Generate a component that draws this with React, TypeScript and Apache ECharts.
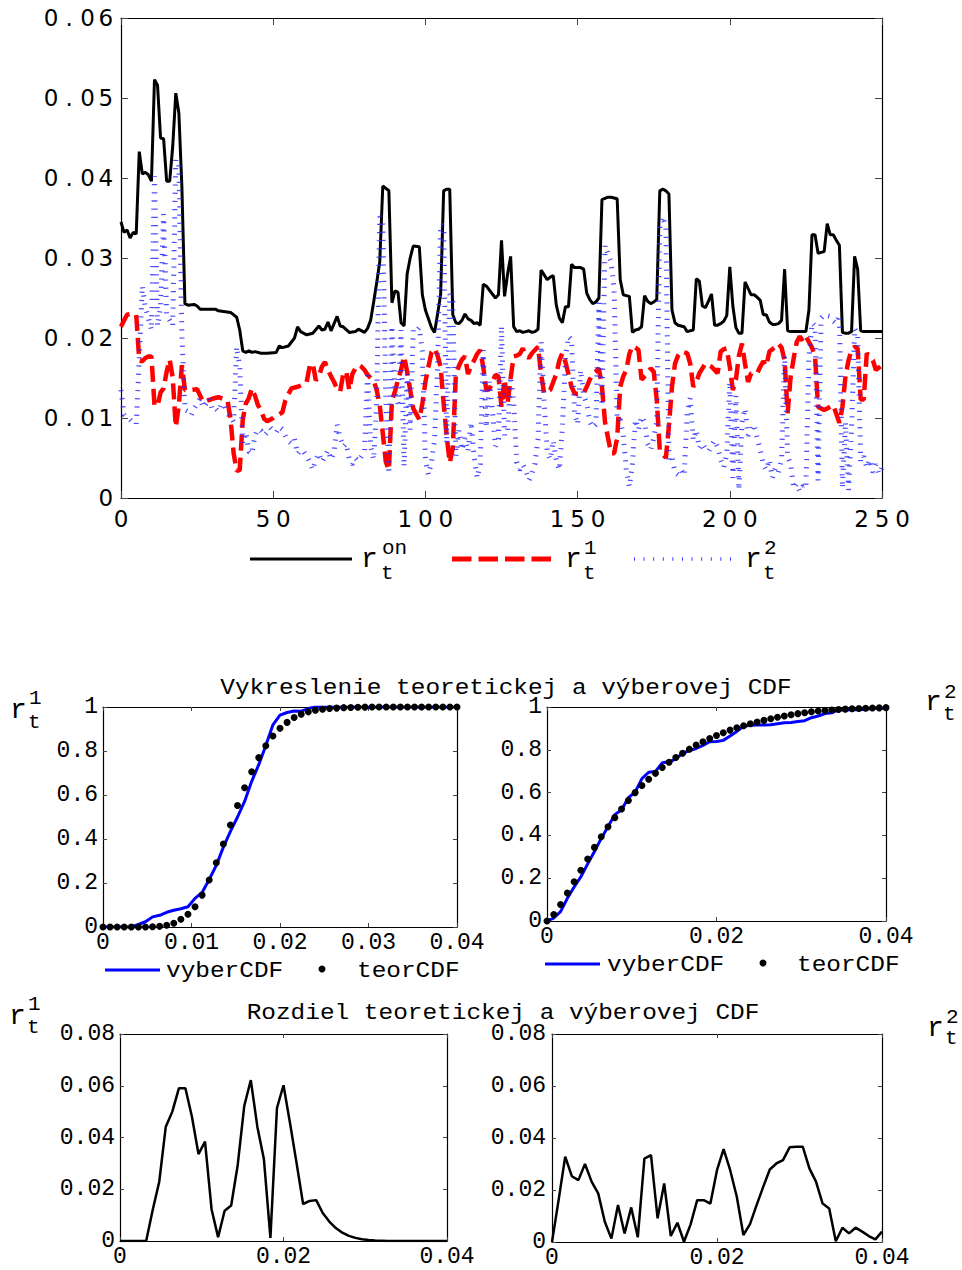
import React, { useEffect, useRef } from 'react';
import * as echarts from 'echarts';

// Daily series: overnight rate and the two simulated components, as [day, value]
const rOn: [number, number][] = [
  [0, 0.0345], [1, 0.0332], [2, 0.0335], [3, 0.0325], [4, 0.0332], [5, 0.033], [6, 0.0433], [7, 0.0405], [8, 0.0407], [9, 0.0404],
  [10, 0.0396], [11, 0.0523], [12, 0.0516], [13, 0.045], [14, 0.0449], [15, 0.0396], [16, 0.0396], [17, 0.044], [18, 0.0506], [19, 0.0482],
  [20, 0.0389], [21, 0.0243], [22, 0.0241], [24, 0.0242], [25, 0.024], [26, 0.0236], [31, 0.0236], [32, 0.0234], [36, 0.0232], [38, 0.0226],
  [39, 0.021], [40, 0.0184], [41, 0.0182], [42, 0.0184], [43, 0.0182], [44, 0.0183], [46, 0.0181], [48, 0.0181], [51, 0.0182], [52, 0.019],
  [53, 0.0188], [55, 0.019], [56, 0.0195], [57, 0.02], [58, 0.0214], [59, 0.0208], [61, 0.0204], [63, 0.0206], [65, 0.0215], [66, 0.021],
  [67, 0.0211], [68, 0.022], [69, 0.0209], [71, 0.0227], [72, 0.0215], [73, 0.0214], [75, 0.0207], [77, 0.0208], [78, 0.0211], [80, 0.0207],
  [81, 0.0212], [82, 0.0222], [83, 0.0245], [84, 0.0269], [85, 0.0295], [86, 0.039], [87, 0.0387], [88, 0.0384], [89, 0.0244], [90, 0.0259],
  [91, 0.0257], [92, 0.0219], [93, 0.0215], [94, 0.028], [95, 0.03], [96, 0.0315], [98, 0.0314], [99, 0.0254], [100, 0.0235], [101, 0.0224],
  [102, 0.0213], [103, 0.0207], [104, 0.023], [105, 0.0254], [106, 0.0384], [107, 0.0386], [108, 0.0386], [109, 0.0229], [110, 0.0219], [111, 0.0218],
  [112, 0.0222], [113, 0.023], [114, 0.0224], [115, 0.0222], [116, 0.0218], [117, 0.0219], [118, 0.0216], [119, 0.0267], [120, 0.0265], [121, 0.026],
  [123, 0.025], [124, 0.0254], [125, 0.0322], [126, 0.0252], [127, 0.028], [128, 0.0302], [129, 0.0214], [130, 0.0208], [131, 0.0209], [132, 0.0207],
  [133, 0.0208], [134, 0.0209], [135, 0.0207], [136, 0.0208], [137, 0.0211], [138, 0.0285], [139, 0.0279], [140, 0.0273], [141, 0.0276], [142, 0.0278],
  [143, 0.0241], [144, 0.0225], [145, 0.0219], [146, 0.0239], [147, 0.0239], [148, 0.0292], [149, 0.0288], [151, 0.0288], [152, 0.0286], [153, 0.0256],
  [154, 0.0248], [155, 0.0243], [156, 0.0245], [157, 0.025], [158, 0.0373], [160, 0.0376], [161, 0.0376], [162, 0.0375], [163, 0.0374], [164, 0.0273],
  [165, 0.0254], [166, 0.0253], [167, 0.0252], [168, 0.0207], [169, 0.021], [170, 0.0211], [171, 0.0214], [172, 0.0253], [173, 0.0246], [174, 0.0243],
  [175, 0.0245], [176, 0.0248], [177, 0.0384], [178, 0.0386], [179, 0.0384], [180, 0.038], [181, 0.0235], [182, 0.0219], [183, 0.0216], [184, 0.0215],
  [185, 0.0214], [186, 0.0208], [188, 0.021], [189, 0.0274], [190, 0.0271], [191, 0.024], [192, 0.0238], [193, 0.0246], [194, 0.0255], [195, 0.0216],
  [196, 0.0216], [197, 0.0218], [198, 0.0221], [199, 0.0228], [200, 0.0289], [201, 0.024], [202, 0.0213], [203, 0.0206], [204, 0.0206], [205, 0.027],
  [206, 0.0262], [207, 0.0254], [208, 0.0254], [209, 0.0251], [210, 0.0247], [211, 0.0229], [212, 0.0229], [213, 0.022], [214, 0.0217], [215, 0.0217],
  [216, 0.0218], [217, 0.0222], [218, 0.0286], [219, 0.0209], [220, 0.0208], [225, 0.0208], [226, 0.0235], [227, 0.0329], [228, 0.0329], [229, 0.0306],
  [230, 0.0307], [231, 0.0308], [232, 0.0343], [233, 0.0329], [234, 0.0329], [235, 0.0322], [236, 0.0316], [237, 0.0207], [238, 0.0206], [239, 0.0206],
  [240, 0.0208], [241, 0.0302], [242, 0.0286], [243, 0.0209], [244, 0.0208], [250, 0.0208],
];

const r1: [number, number][] = [
  [0, 0.0214], [1, 0.0222], [2, 0.0229], [3, 0.023], [4, 0.023], [5, 0.0229], [6, 0.0172], [7, 0.0171], [8, 0.0175], [9, 0.0177],
  [10, 0.0177], [11, 0.0116], [12, 0.0115], [13, 0.0132], [14, 0.0137], [15, 0.0158], [16, 0.0173], [17, 0.015], [18, 0.0089], [19, 0.0116],
  [20, 0.0166], [21, 0.0135], [23, 0.0135], [25, 0.0136], [26, 0.0128], [27, 0.012], [30, 0.0124], [32, 0.0126], [35, 0.0122], [36, 0.0098],
  [37, 0.0056], [38, 0.0034], [39, 0.0035], [40, 0.0098], [41, 0.0118], [42, 0.0125], [43, 0.0137], [44, 0.0128], [45, 0.0116], [46, 0.011],
  [47, 0.0099], [48, 0.0096], [50, 0.01], [51, 0.0103], [53, 0.0107], [54, 0.0122], [55, 0.013], [56, 0.0137], [58, 0.0139], [60, 0.0142],
  [61, 0.0145], [62, 0.0165], [63, 0.0168], [64, 0.0147], [65, 0.0152], [66, 0.0164], [67, 0.017], [68, 0.016], [69, 0.0152], [70, 0.0145],
  [71, 0.0136], [72, 0.0133], [73, 0.0155], [74, 0.0158], [75, 0.0135], [76, 0.0155], [77, 0.0162], [78, 0.0166], [79, 0.0164], [80, 0.016],
  [81, 0.0154], [82, 0.015], [83, 0.0147], [84, 0.0135], [85, 0.0116], [86, 0.0081], [87, 0.0045], [88, 0.0035], [89, 0.0122], [90, 0.0133],
  [91, 0.0148], [92, 0.016], [93, 0.0177], [94, 0.0158], [95, 0.0135], [96, 0.0112], [97, 0.0105], [98, 0.0098], [99, 0.0118], [100, 0.0145],
  [101, 0.0164], [102, 0.0182], [103, 0.0187], [104, 0.0178], [105, 0.0164], [106, 0.0118], [107, 0.0077], [108, 0.0044], [109, 0.0062], [110, 0.0154],
  [111, 0.0165], [112, 0.0173], [113, 0.0177], [114, 0.0155], [115, 0.0165], [116, 0.0172], [117, 0.018], [118, 0.0185], [119, 0.0164], [120, 0.0135],
  [121, 0.0136], [122, 0.0145], [123, 0.0154], [124, 0.0152], [125, 0.0114], [126, 0.0148], [127, 0.0118], [128, 0.015], [129, 0.0177], [130, 0.0178],
  [131, 0.018], [132, 0.0187], [133, 0.0178], [134, 0.0175], [135, 0.0181], [136, 0.0185], [137, 0.0189], [138, 0.0155], [139, 0.0131], [140, 0.0133],
  [141, 0.0135], [142, 0.0145], [143, 0.0155], [144, 0.0172], [145, 0.0181], [146, 0.017], [147, 0.0155], [148, 0.0139], [149, 0.0131], [150, 0.013],
  [152, 0.0131], [153, 0.0139], [154, 0.0148], [155, 0.0155], [156, 0.0158], [157, 0.0162], [158, 0.0139], [159, 0.0095], [160, 0.0075], [161, 0.0056],
  [162, 0.0056], [163, 0.0075], [164, 0.0139], [165, 0.0152], [166, 0.016], [167, 0.018], [168, 0.019], [169, 0.0188], [170, 0.0185], [171, 0.0148],
  [172, 0.0152], [173, 0.0156], [174, 0.0162], [175, 0.0158], [176, 0.0123], [177, 0.006], [178, 0.0055], [179, 0.005], [180, 0.009], [181, 0.0139],
  [182, 0.0168], [183, 0.0178], [184, 0.0183], [185, 0.0182], [186, 0.0181], [187, 0.0168], [188, 0.0139], [189, 0.0145], [190, 0.0156], [191, 0.0162],
  [192, 0.0168], [193, 0.0166], [194, 0.0164], [195, 0.016], [196, 0.0156], [197, 0.0183], [198, 0.0186], [199, 0.0187], [200, 0.0164], [201, 0.0135],
  [202, 0.0148], [203, 0.0178], [204, 0.0193], [205, 0.0168], [206, 0.0145], [207, 0.0156], [209, 0.0156], [210, 0.0164], [211, 0.0171], [212, 0.0165],
  [213, 0.0183], [214, 0.0186], [215, 0.0189], [216, 0.0193], [217, 0.0188], [218, 0.0172], [219, 0.0106], [220, 0.0152], [221, 0.0175], [222, 0.0195],
  [223, 0.0202], [224, 0.0196], [225, 0.0202], [226, 0.0195], [227, 0.0188], [228, 0.0177], [229, 0.0114], [230, 0.0112], [231, 0.011], [232, 0.0112],
  [233, 0.0114], [234, 0.0116], [235, 0.0105], [236, 0.0094], [237, 0.0114], [238, 0.0152], [239, 0.0172], [240, 0.0185], [241, 0.0189], [242, 0.0187],
  [243, 0.0123], [244, 0.0123], [245, 0.0181], [246, 0.0176], [247, 0.0172], [248, 0.016], [249, 0.0163], [250, 0.0166],
];

// r2 for days 0..250 (index = day)
const r2: number[] = [
  0.0135, 0.0104, 0.0101, 0.0098, 0.0094, 0.0092, 0.0175, 0.0265, 0.0238, 0.0225,
  0.021, 0.0402, 0.0215, 0.0238, 0.0355, 0.0228, 0.0222, 0.0215, 0.0423, 0.0418,
  0.0205, 0.011, 0.0108, 0.0103, 0.0112, 0.0118, 0.0125, 0.0113, 0.0118, 0.0125,
  0.011, 0.0112, 0.0108, 0.0118, 0.0115, 0.0105, 0.0102, 0.0095, 0.0189, 0.0165,
  0.0068, 0.0082, 0.0058, 0.0055, 0.0078, 0.0086, 0.0084, 0.0078, 0.0082, 0.0088,
  0.0084, 0.0082, 0.0089, 0.0086, 0.0078, 0.0071, 0.0068, 0.0074, 0.0055, 0.006,
  0.0058, 0.0052, 0.0045, 0.0035, 0.0048, 0.0056, 0.0045, 0.0052, 0.006, 0.0048,
  0.0058, 0.0092, 0.0075, 0.0064, 0.0068, 0.0048, 0.0042, 0.005, 0.0046, 0.0052,
  0.0058, 0.0158, 0.0065, 0.0048, 0.0118, 0.0352, 0.0345, 0.012, 0.003, 0.0215,
  0.0132, 0.0118, 0.021, 0.0039, 0.0155, 0.0085, 0.021, 0.0208, 0.0213, 0.0183,
  0.0047, 0.0029, 0.0045, 0.0072, 0.0165, 0.0342, 0.034, 0.0068, 0.0255, 0.0245,
  0.0052, 0.0085, 0.006, 0.0075, 0.0058, 0.0095, 0.0052, 0.0025, 0.0042, 0.0185,
  0.0088, 0.0145, 0.0112, 0.0064, 0.0074, 0.0215, 0.0078, 0.0082, 0.0152, 0.012,
  0.0045, 0.0035, 0.0042, 0.0035, 0.0022, 0.003, 0.0043, 0.0074, 0.0195, 0.0122,
  0.0058, 0.0048, 0.0072, 0.0047, 0.0035, 0.0088, 0.0175, 0.0202, 0.0198, 0.0105,
  0.0092, 0.016, 0.0128, 0.0118, 0.0095, 0.0088, 0.0092, 0.0244, 0.0115, 0.0316,
  0.0305, 0.0295, 0.026, 0.0098, 0.0098, 0.0078, 0.0035, 0.0014, 0.0042, 0.0098,
  0.0085, 0.0102, 0.0095, 0.0068, 0.006, 0.0075, 0.0095, 0.0339, 0.0352, 0.0338,
  0.0048, 0.0052, 0.0032, 0.0029, 0.0035, 0.0028, 0.0105, 0.0125, 0.0072, 0.0085,
  0.0062, 0.0068, 0.0062, 0.0058, 0.0065, 0.0072, 0.0064, 0.0048, 0.0038, 0.0055,
  0.0145, 0.0025, 0.0128, 0.001, 0.0095, 0.0112, 0.0078, 0.0085, 0.0092, 0.0075,
  0.006, 0.0042, 0.0035, 0.0048, 0.0025, 0.0038, 0.0032, 0.0048, 0.0178, 0.0052,
  0.0042, 0.0012, 0.0018, 0.0008, 0.0015, 0.0012, 0.0175, 0.0219, 0.0215, 0.0022,
  0.0225, 0.0229, 0.0228, 0.0227, 0.0221, 0.0218, 0.0229, 0.0012, 0.0095, 0.001,
  0.0085, 0.0212, 0.0205, 0.0045, 0.0052, 0.0038, 0.0048, 0.0032, 0.0042, 0.003,
  0.0038,
];

// Evaluation grid for the CDF comparison
const cdfX: number[] = [
  0, 0.0008, 0.0016, 0.0024, 0.0032, 0.004, 0.0048, 0.0056, 0.0064, 0.0072,
  0.008, 0.0088, 0.0096, 0.0104, 0.0112, 0.012, 0.0128, 0.0136, 0.0144, 0.0152,
  0.016, 0.0168, 0.0176, 0.0184, 0.0192, 0.02, 0.0208, 0.0216, 0.0224, 0.0232,
  0.024, 0.0248, 0.0256, 0.0264, 0.0272, 0.028, 0.0288, 0.0296, 0.0304, 0.0312,
  0.032, 0.0328, 0.0336, 0.0344, 0.0352, 0.036, 0.0368, 0.0376, 0.0384, 0.0392,
  0.04,
];

const teor1: number[] = [
  0, 0, 0, 0, 0, 0, 0, 0.0015, 0.003, 0.008,
  0.017, 0.035, 0.058, 0.092, 0.145, 0.214, 0.292, 0.377, 0.464, 0.552,
  0.633, 0.706, 0.77, 0.824, 0.868, 0.903, 0.93, 0.952, 0.967, 0.978,
  0.985, 0.99, 0.993, 0.995, 0.997, 0.998, 0.999, 0.9993, 0.9996, 0.9998,
  0.9999, 1, 1, 1, 1, 1, 1, 1, 1, 1,
  1,
];
const vyber1: number[] = [
  0, 0, 0, 0, 0, 0.012, 0.024, 0.046, 0.053, 0.067,
  0.076, 0.083, 0.092, 0.13, 0.157, 0.216, 0.28, 0.363, 0.435, 0.5,
  0.571, 0.662, 0.738, 0.825, 0.919, 0.963, 0.975, 0.982, 0.981, 0.993,
  1, 1, 1, 1, 1, 1, 1, 1, 1, 1,
  1, 1, 1, 1, 1, 1, 1, 1, 1, 1,
  1,
];
const teor2: number[] = [
  0, 0.03, 0.077, 0.131, 0.183, 0.237, 0.29, 0.344, 0.394, 0.44,
  0.483, 0.523, 0.563, 0.6, 0.633, 0.662, 0.69, 0.717, 0.742, 0.764,
  0.784, 0.803, 0.822, 0.8375, 0.853, 0.867, 0.88, 0.892, 0.903, 0.9125,
  0.922, 0.93, 0.9375, 0.945, 0.952, 0.958, 0.964, 0.969, 0.973, 0.978,
  0.981, 0.984, 0.986, 0.988, 0.99, 0.9915, 0.993, 0.994, 0.995, 0.996,
  0.997,
];
const vyber2: number[] = [
  0, 0.014, 0.044, 0.106, 0.159, 0.207, 0.267, 0.325, 0.386, 0.441,
  0.497, 0.52, 0.576, 0.602, 0.665, 0.695, 0.699, 0.739, 0.744, 0.757,
  0.784, 0.796, 0.806, 0.821, 0.838, 0.839, 0.844, 0.864, 0.886, 0.91,
  0.915, 0.916, 0.916, 0.917, 0.922, 0.9265, 0.928, 0.932, 0.936, 0.95,
  0.958, 0.969, 0.973, 0.988, 0.985, 0.988, 0.9875, 0.99, 0.9927, 0.995,
  0.993,
];

const diff1: number[] = [
  0, 0, 0, 0, 0, 0.012, 0.0229, 0.0442, 0.05, 0.059,
  0.059, 0.048, 0.0336, 0.0384, 0.0123, 0.0015, 0.0117, 0.0137, 0.0294, 0.0522,
  0.0622, 0.0442, 0.0317, 0.0012, 0.0514, 0.0602, 0.0455, 0.0301, 0.0143, 0.0155,
  0.0158, 0.0108, 0.0075, 0.005, 0.0032, 0.002, 0.0012, 0.0007, 0.0004, 0.0002,
  0.0001, 0, 0, 0, 0, 0, 0, 0, 0, 0,
  0,
];
const diff2: number[] = [
  0, 0.0161, 0.0328, 0.0253, 0.0238, 0.03, 0.0232, 0.0187, 0.0078, 0.0013,
  0.0142, 0.0033, 0.0133, 0.0018, 0.0321, 0.0334, 0.0091, 0.0225, 0.0023, 0.0074,
  0.0001, 0.0068, 0.0161, 0.0161, 0.0148, 0.0276, 0.0357, 0.0276, 0.0174, 0.0027,
  0.0069, 0.0142, 0.0212, 0.0279, 0.0302, 0.0315, 0.0364, 0.0366, 0.0366, 0.0283,
  0.0232, 0.0148, 0.0129, 0.0003, 0.0055, 0.0033, 0.0055, 0.004, 0.0023, 0.001,
  0.004,
];

const titleCdf = 'Vykreslenie teoretickej a výberovej CDF';
const titleDiff = 'Rozdiel teoretickej a výberovej CDF';

const MONO = '"Liberation Mono", "Courier New", monospace';
const SANS = '"DejaVu Sans", sans-serif';

const pairs = (xs: number[], ys: number[]) => xs.map((x, i) => [x, ys[i]]);
const spread = (s: string) => s.split('').map((c) => `{c|${c}}`).join('');
const fmt2 = (v: number) => (v === 0 ? '0' : v.toFixed(2));
const fmt1 = (v: number) => (v === 0 ? '0' : v === 1 ? '1' : v.toFixed(1));

function axes(kind: 'x' | 'y', gridIndex: number, min: number, max: number, interval: number, tickLen: number, label: any) {
  const common: any = {
    type: 'value',
    gridIndex,
    min,
    max,
    interval,
    splitLine: { show: false },
    axisLine: { show: true, onZero: false, lineStyle: { color: '#000', width: 1.2 } },
    axisTick: { show: true, inside: true, length: tickLen, lineStyle: { color: '#444', width: 1 } },
  };
  return [
    { ...common, position: kind === 'x' ? 'bottom' : 'left', axisLabel: { showMinLabel: true, showMaxLabel: true, ...label } },
    { ...common, position: kind === 'x' ? 'top' : 'right', axisLabel: { show: false } },
  ];
}

const monoLabel = (margin: number, formatter: (v: number) => string) => ({
  margin,
  formatter,
  fontFamily: MONO,
  fontSize: 23,
  color: '#000',
});

// "r" with a superscript and a subscript "t"
function rLabel(x: number, y: number, sup: string, supDy: number, subDy: number, dx = 19) {
  const base = { fill: '#000', fontFamily: MONO, align: 'left', verticalAlign: 'middle' };
  return [
    { type: 'text', x, y, style: { ...base, text: 'r', fontSize: 28 } },
    { type: 'text', x: x + dx, y: y + supDy, style: { ...base, text: sup, fontSize: 21 } },
    { type: 'text', x: x + dx - 1, y: y + subDy, style: { ...base, text: 't', fontSize: 21 } },
  ];
}

function monoText(text: string, x: number, y: number, align: string) {
  return {
    type: 'text',
    x,
    y,
    scaleX: 1.11,
    style: { text, fill: '#000', fontFamily: MONO, fontSize: 22, align, verticalAlign: 'middle' },
  };
}

export default function App() {
  const ref = useRef<HTMLDivElement>(null);

  useEffect(() => {
    if (!ref.current) return;
    const chart = echarts.init(ref.current, undefined, { renderer: 'svg' });

    const grids = [
      { left: 121, top: 18, width: 761, height: 480 },
      { left: 103, top: 707, width: 354, height: 220 },
      { left: 547, top: 707, width: 339, height: 214 },
      { left: 120, top: 1034, width: 327, height: 207 },
      { left: 552, top: 1034, width: 330, height: 208 },
    ].map((g) => ({ ...g, outerBoundsMode: 'none', containLabel: false }));

    const topX = {
      margin: 8,
      formatter: (v: number) => spread(String(v)),
      rich: { c: { width: 20.5, align: 'center', fontFamily: SANS, fontSize: 23, color: '#000', lineHeight: 26 } },
    };
    const topY = {
      margin: 6,
      formatter: (v: number) => spread(fmt2(v)),
      rich: { c: { width: 18.3, align: 'center', fontFamily: SANS, fontSize: 23, color: '#000', lineHeight: 26 } },
    };

    const xAxis = [
      ...axes('x', 0, 0, 250, 50, 7, topX),
      ...axes('x', 1, 0, 0.04, 0.01, 4, monoLabel(4, fmt2)),
      ...axes('x', 2, 0, 0.04, 0.02, 4, monoLabel(4, fmt2)),
      ...axes('x', 3, 0, 0.04, 0.02, 4, monoLabel(4, fmt2)),
      ...axes('x', 4, 0, 0.04, 0.02, 4, monoLabel(4, fmt2)),
    ];
    const yAxis = [
      ...axes('y', 0, 0, 0.06, 0.01, 7, topY),
      ...axes('y', 1, 0, 1, 0.2, 4, monoLabel(5, fmt1)),
      ...axes('y', 2, 0, 1, 0.2, 4, monoLabel(5, fmt1)),
      ...axes('y', 3, 0, 0.08, 0.02, 4, monoLabel(5, fmt2)),
      ...axes('y', 4, 0, 0.08, 0.02, 4, monoLabel(6, fmt2)),
    ];

    const line = (name: string, ax: number, data: any[], style: any, z = 2) => ({
      name,
      type: 'line',
      xAxisIndex: ax,
      yAxisIndex: ax,
      data,
      showSymbol: false,
      symbol: 'none',
      z,
      lineStyle: style,
    });
    const dots = (name: string, ax: number, data: any[]) => ({
      name,
      type: 'scatter',
      xAxisIndex: ax,
      yAxisIndex: ax,
      data,
      symbol: 'circle',
      symbolSize: 7,
      itemStyle: { color: '#000', opacity: 1 },
      z: 4,
      clip: false,
    });

    const series = [
      line('r_on', 0, rOn, { color: '#000', width: 3 }, 2),
      line('r1', 0, r1, { color: '#ff0000', width: 4.5, type: [16, 7], cap: 'butt' }, 3),
      line('r2', 0, r2.map((v, t) => [t, v]), { color: '#2a2aff', width: 5, type: [1.2, 7], cap: 'butt', opacity: 0.85 }, 4),
      line('vyberCDF r1', 2, pairs(cdfX, vyber1), { color: '#0000ff', width: 3 }, 3),
      dots('teorCDF r1', 2, pairs(cdfX, teor1)),
      line('vyberCDF r2', 4, pairs(cdfX, vyber2), { color: '#0000ff', width: 3 }, 3),
      dots('teorCDF r2', 4, pairs(cdfX, teor2)),
      line('rozdiel r1', 6, pairs(cdfX, diff1), { color: '#000', width: 2.5 }, 3),
      line('rozdiel r2', 8, pairs(cdfX, diff2), { color: '#000', width: 2.5 }, 3),
    ];

    const graphic: any[] = [
      // legend of the time-series panel
      { type: 'line', shape: { x1: 250, y1: 559, x2: 352, y2: 559 }, style: { stroke: '#000', lineWidth: 3 } },
      ...rLabel(361, 559, 'on', -11, 14, 21),
      { type: 'line', shape: { x1: 452, y1: 559, x2: 551, y2: 559 }, style: { stroke: '#ff0000', lineWidth: 5, lineDash: [19.5, 7] } },
      ...rLabel(565, 559, '1', -11, 14),
      { type: 'line', shape: { x1: 634, y1: 559, x2: 731, y2: 559 }, style: { stroke: '#2a2aff', lineWidth: 3.5, lineDash: [0.9, 8.7] } },
      ...rLabel(745, 559, '2', -11, 14),
      // titles
      monoText(titleCdf, 506, 688, 'center'),
      monoText(titleDiff, 503, 1013, 'center'),
      // panel labels
      ...rLabel(10, 710, '1', -12, 12),
      ...rLabel(925, 702, '2', -10, 12),
      ...rLabel(9, 1016, '1', -12, 11),
      ...rLabel(927, 1028, '2', -11, 10),
      // legends of the CDF panels
      { type: 'line', shape: { x1: 105, y1: 970, x2: 160, y2: 970 }, style: { stroke: '#0000ff', lineWidth: 3 } },
      monoText('vyberCDF', 166, 971, 'left'),
      { type: 'circle', shape: { cx: 322, cy: 969, r: 3.5 }, style: { fill: '#000' } },
      monoText('teorCDF', 357, 971, 'left'),
      { type: 'line', shape: { x1: 545, y1: 964, x2: 600, y2: 964 }, style: { stroke: '#0000ff', lineWidth: 3 } },
      monoText('vyberCDF', 607, 965, 'left'),
      { type: 'circle', shape: { cx: 763, cy: 963, r: 3.5 }, style: { fill: '#000' } },
      monoText('teorCDF', 797, 965, 'left'),
    ];

    chart.setOption({
      animation: false,
      backgroundColor: '#fff',
      grid: grids,
      xAxis,
      yAxis,
      series,
      graphic,
    });

    return () => chart.dispose();
  }, []);

  return <div ref={ref} style={{ position: 'absolute', left: 0, top: 0, width: 962, height: 1270 }} />;
}
